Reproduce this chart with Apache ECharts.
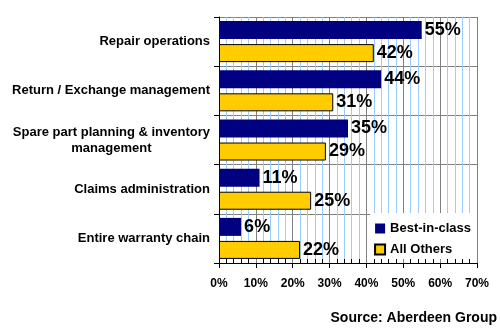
<!DOCTYPE html>
<html>
<head>
<meta charset="utf-8">
<script src="https://cdn.jsdelivr.net/npm/echarts@6/dist/echarts.min.js"></script>
<style>html,body{margin:0;padding:0;background:#fff;}#c{width:500px;height:330px;}</style>
</head>
<body>
<div id="c"></div>
<script>
const categories = ['Repair operations', 'Return / Exchange management', 'Spare part planning & inventory\nmanagement', 'Claims administration', 'Entire warranty chain'];
const bestInClass = [55, 44, 35, 11, 6];
const allOthers = [42, 31, 29, 25, 22];
const seriesNames = ['Best-in-class', 'All Others'];
const xTicks = [0, 10, 20, 30, 40, 50, 60, 70];
const sourceText = 'Source: Aberdeen Group';

const FONT = "'Liberation Sans', Arial, sans-serif";
const chart = echarts.init(document.getElementById('c'), null, {renderer: 'canvas'});
const labelStyle = {show: true, position: 'right', distance: 3, formatter: '{c}%', color: '#000', fontWeight: 'bold', fontSize: 18, fontFamily: FONT};
chart.setOption({
  animation: false,
  backgroundColor: '#fff',
  grid: {left: 219, right: 23, top: 17, bottom: 67, containLabel: false},
  xAxis: {
    type: 'value', min: xTicks[0], max: xTicks[xTicks.length - 1], interval: 10,
    axisLine: {show: true, lineStyle: {color: '#000', width: 1}},
    axisTick: {show: true, length: 5, lineStyle: {color: '#000'}},
    minorTick: {show: true, splitNumber: 5, length: -4, lineStyle: {color: '#000'}},
    splitLine: {show: true, lineStyle: {color: '#808080', width: 1}},
    minorSplitLine: {show: true, lineStyle: {color: '#99CCFF', width: 1}},
    axisLabel: {formatter: '{value}%', color: '#000', fontWeight: 'bold', fontSize: 12, fontFamily: FONT, margin: 15}
  },
  yAxis: {
    type: 'category', inverse: true, data: categories,
    axisLine: {show: true, lineStyle: {color: '#000', width: 1}},
    axisTick: {show: true, length: 5, lineStyle: {color: '#000'}},
    splitLine: {show: true, lineStyle: {color: '#808080', width: 1}},
    axisLabel: {
      color: '#000', fontWeight: 'bold', fontSize: 13, fontFamily: FONT, margin: 9, lineHeight: 16,
      formatter: function (v) {
        if (v.indexOf('\n') >= 0) return v.split('\n').map(function (s) { return '{c|' + s + '}'; }).join('\n');
        return v;
      },
      rich: {c: {align: 'center', color: '#000', fontWeight: 'bold', fontSize: 13, fontFamily: FONT, lineHeight: 16}}
    }
  },
  legend: {
    orient: 'vertical', right: 23, top: 213,
    backgroundColor: '#fff', padding: [9, 6, 3, 4], itemGap: 8,
    itemWidth: 10, itemHeight: 10, icon: 'rect',
    textStyle: {color: '#000', fontWeight: 'bold', fontSize: 13, fontFamily: FONT},
    data: seriesNames
  },
  series: [
    {name: seriesNames[0], type: 'bar', data: bestInClass, barWidth: 18, barGap: '28%', barCategoryGap: '17%',
     itemStyle: {color: '#000080'}, label: labelStyle},
    {name: seriesNames[1], type: 'bar', data: allOthers, barWidth: 18,
     itemStyle: {color: '#FFCC00', borderColor: '#000', borderWidth: 1}, label: labelStyle}
  ],
  graphic: [{type: 'text', right: 3, top: 311, style: {text: sourceText, fill: '#000', font: 'bold 14px ' + FONT}}]
});
</script>
</body>
</html>
